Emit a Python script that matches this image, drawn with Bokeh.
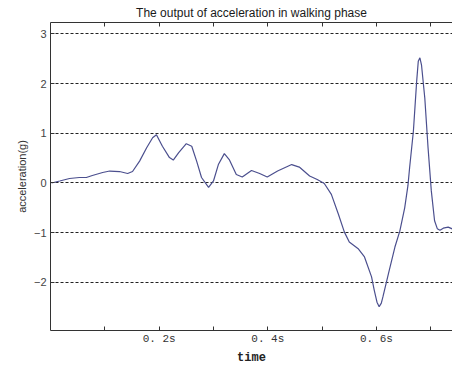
from bokeh.plotting import figure
from bokeh.models import FixedTicker, LinearAxis, Range1d
from bokeh.embed import file_html
from bokeh.resources import INLINE

# time (s) and acceleration (g)
time_s = [0.002, 0.017, 0.035, 0.053, 0.066, 0.077, 0.096, 0.109, 0.127, 0.142,
          0.151, 0.164, 0.177, 0.188, 0.195, 0.206, 0.219, 0.226, 0.236, 0.250,
          0.260, 0.269, 0.278, 0.291, 0.300, 0.309, 0.320, 0.329, 0.342, 0.353,
          0.370, 0.385, 0.399, 0.418, 0.444, 0.458, 0.477, 0.491, 0.504, 0.517,
          0.530, 0.541, 0.550, 0.567, 0.578, 0.591, 0.596, 0.601, 0.605, 0.609,
          0.612, 0.622, 0.634, 0.643, 0.652, 0.658, 0.661, 0.668, 0.674, 0.677,
          0.680, 0.683, 0.689, 0.695, 0.701, 0.707, 0.712, 0.717, 0.723, 0.732,
          0.741]
accel_g = [0.00, 0.04, 0.09, 0.11, 0.11, 0.15, 0.21, 0.24, 0.23, 0.19,
           0.23, 0.44, 0.71, 0.91, 0.97, 0.74, 0.51, 0.46, 0.61, 0.79,
           0.74, 0.44, 0.11, -0.09, 0.04, 0.37, 0.59, 0.47, 0.17, 0.12,
           0.25, 0.19, 0.12, 0.24, 0.37, 0.32, 0.14, 0.07, -0.01, -0.23,
           -0.63, -0.99, -1.19, -1.33, -1.49, -1.89, -2.16, -2.40, -2.49, -2.42,
           -2.29, -1.83, -1.29, -0.97, -0.50, -0.05, 0.30, 1.04, 2.04, 2.45,
           2.52, 2.37, 1.71, 0.71, -0.16, -0.76, -0.92, -0.95, -0.91, -0.89,
           -0.93]

x_label_ticks = [0.2, 0.4, 0.6]
x_minor_ticks = [0.1, 0.3, 0.5, 0.7]
x_all_ticks = [0.1, 0.2, 0.3, 0.4, 0.5, 0.6, 0.7]
x_tick_labels = {0.2: "0. 2s", 0.4: "0. 4s", 0.6: "0. 6s"}
y_ticks = [-2, -1, 0, 1, 2, 3]

p = figure(width=452, height=367, output_backend="svg", toolbar_location=None,
           x_range=Range1d(0.0, 0.74), y_range=Range1d(-2.97, 3.23),
           min_border_left=50, min_border_right=0, min_border_top=21, min_border_bottom=37,
           title="The output of acceleration in walking phase")
p.title.align = "center"
p.title.vertical_align = "bottom"
p.title.text_font = "Liberation Sans"
p.title.text_font_size = "12px"
p.title.text_font_style = "normal"
p.title.text_color = "#1a1a1a"
p.title.standoff = 6
p.title.offset = 0
p.outline_line_color = None
p.background_fill_color = "white"
p.border_fill_color = "white"

p.line(time_s, accel_g, line_color="#4b4f8e", line_width=1.2)

p.xaxis.ticker = FixedTicker(ticks=x_label_ticks, minor_ticks=x_minor_ticks)
p.xaxis.major_label_overrides = x_tick_labels
p.xaxis.major_tick_in = 4
p.xaxis.major_tick_out = 0
p.xaxis.minor_tick_in = 4
p.xaxis.minor_tick_out = 0
p.xaxis.axis_label = "time"
p.xaxis.axis_label_text_font = "Liberation Mono"
p.xaxis.axis_label_text_font_style = "bold"
p.xaxis.axis_label_text_font_size = "12px"
p.xaxis.axis_label_text_color = "#222222"
p.xaxis.axis_label_standoff = 3
p.xaxis.major_label_text_font = "Liberation Mono"
p.xaxis.major_label_text_font_size = "11px"
p.xaxis.major_label_text_color = "#333333"
p.xaxis.major_label_standoff = 2
p.xaxis.axis_line_color = "#333333"
p.xaxis.major_tick_line_color = "#333333"
p.xaxis.minor_tick_line_color = "#333333"

p.yaxis.ticker = FixedTicker(ticks=y_ticks)
p.yaxis.minor_tick_line_color = None
p.yaxis.major_tick_in = 4
p.yaxis.major_tick_out = 0
p.yaxis.axis_label = "acceleration(g)"
p.yaxis.axis_label_text_font = "Liberation Sans"
p.yaxis.axis_label_text_font_style = "normal"
p.yaxis.axis_label_text_font_size = "11px"
p.yaxis.axis_label_text_color = "#333333"
p.yaxis.axis_label_standoff = 3
p.yaxis.major_label_text_font = "Liberation Sans"
p.yaxis.major_label_text_font_size = "11px"
p.yaxis.major_label_text_color = "#444444"
p.yaxis.major_label_standoff = 4
p.yaxis.axis_line_color = "#333333"
p.yaxis.major_tick_line_color = "#333333"

top_axis = LinearAxis(ticker=FixedTicker(ticks=[], minor_ticks=x_all_ticks),
                      major_tick_in=0, major_tick_out=0,
                      minor_tick_in=4, minor_tick_out=0,
                      axis_line_color="#333333", minor_tick_line_color="#333333")
p.add_layout(top_axis, "above")

p.xgrid.grid_line_color = None
p.ygrid.ticker = FixedTicker(ticks=y_ticks)
p.ygrid.grid_line_color = "#222222"
p.ygrid.grid_line_dash = "3 2"
p.ygrid.grid_line_width = 1

open("out.html", "w").write(file_html(p, INLINE))
